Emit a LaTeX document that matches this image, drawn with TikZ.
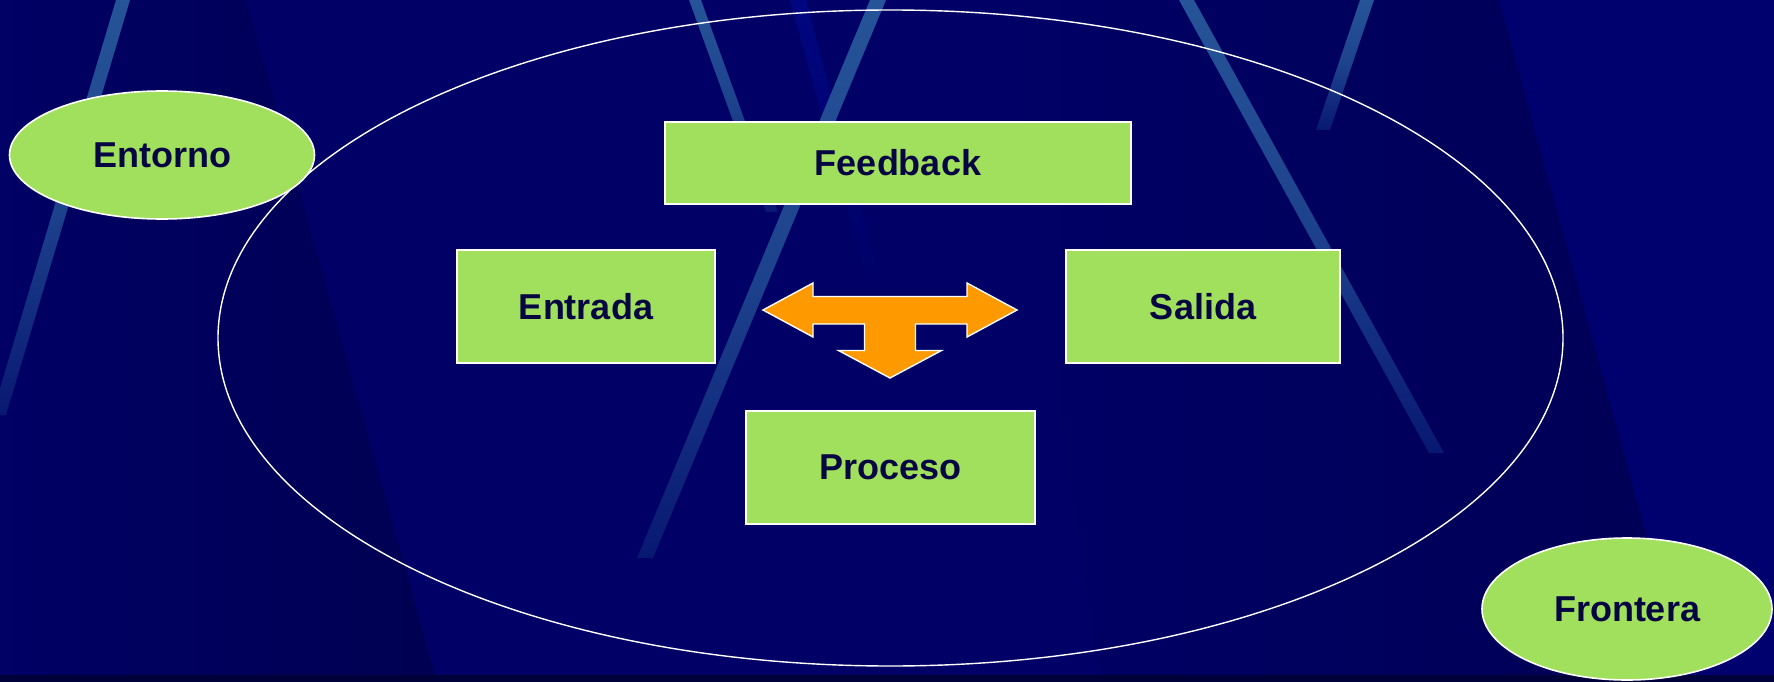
\documentclass[tikz,border=0pt]{standalone}
\usepackage{fontspec}
\setmainfont{Liberation Sans}
\usetikzlibrary{shapes.geometric}

\definecolor{bgmain}{RGB}{0,0,102}
\definecolor{bgdark}{RGB}{0,0,82}
\definecolor{bglight}{RGB}{0,0,110}
\definecolor{bgstrip}{RGB}{0,0,58}
\definecolor{streaktop}{RGB}{38,84,152}
\definecolor{streakbot}{RGB}{8,24,114}
\definecolor{faintstreak}{RGB}{0,6,128}
\definecolor{boxgreen}{RGB}{160,224,92}
\definecolor{inkblue}{RGB}{6,6,66}
\definecolor{arroworange}{RGB}{255,153,0}

\tikzset{
  lbl/.style={font=\fontsize{36}{40}\selectfont\bfseries, text=inkblue},
  greenbox/.style={lbl, rectangle, draw=white, line width=1.6pt, fill=boxgreen, inner sep=0pt},
  greenoval/.style={lbl, ellipse, draw=white, line width=1.6pt, fill=boxgreen, inner sep=0pt},
  systemoval/.style={ellipse, draw=white, line width=1.4pt, inner sep=0pt},
  streak/.style={top color=streaktop, bottom color=streakbot, middle color=streaktop!70!streakbot, draw=none},
}

\begin{document}
\begin{tikzpicture}[x=1pt, y=-1pt]
\useasboundingbox (0,0) rectangle (1774,682);

% slide background: navy field with soft wedges
\fill[bgmain] (0,0) rectangle (1774,682);
\shade[left color=bgmain!95!bgdark, right color=bgdark]
  (0,0) -- (246,0) -- (437,682) -- (0,682) -- cycle;
\shade[left color=bgmain, right color=bgdark!85!bgmain]
  (1000,0) -- (1499,0) -- (1687,682) -- (1100,682) -- cycle;
\fill[bglight] (1499,0) -- (1774,0) -- (1774,682) -- (1687,682) -- cycle;
\shade[top color=faintstreak, bottom color=bgmain, draw=none]
  (790,0) -- (806,0) -- (884,293) -- (870,293) -- cycle;

% light diagonal streaks
\shade[streak] (116,0) -- (130,0) -- (6,415) -- (-8,415) -- cycle;
\shade[streak] (689,0) -- (701,0) -- (778,212) -- (766,212) -- cycle;
\shade[streak] (870,0) -- (886,0) -- (653,558) -- (637,558) -- cycle;
\shade[streak] (1179,0) -- (1194,0) -- (1444,453) -- (1429,453) -- cycle;
\shade[streak] (1360,0) -- (1374,0) -- (1330,130) -- (1316,130) -- cycle;

% dark strip along the bottom edge
\fill[bgstrip] (0,675) rectangle (1774,682);

% system boundary
\node[systemoval, minimum width=1345pt, minimum height=656pt] (sistema) at (890.5,338) {};

% environment and frontier labels
\node[greenoval, minimum width=305pt, minimum height=128pt] (entorno) at (162,155) {Entorno};
\node[greenoval, minimum width=290pt, minimum height=142pt] (frontera) at (1627,609) {Frontera};

% system components
\node[greenbox, minimum width=466pt, minimum height=82pt] (feedback) at (898,163) {Feedback};
\node[greenbox, minimum width=258pt, minimum height=113pt] (entrada) at (586,306.5) {Entrada};
\node[greenbox, minimum width=274pt, minimum height=113pt] (salida) at (1203,306.5) {Salida};
\node[greenbox, minimum width=289pt, minimum height=113pt] (proceso) at (890.5,467.5) {Proceso};

% three-way block arrow between the components
\filldraw[fill=arroworange, draw=white, line width=1.4pt, line join=miter]
  (763,310) -- (813,283) -- (813,296.5) -- (967,296.5) -- (967,283)
  -- (1017,310) -- (967,337) -- (967,324) -- (915.5,324) -- (915.5,350.5)
  -- (941.5,350.5) -- (890,378) -- (838.5,350.5) -- (864.5,350.5)
  -- (864.5,324) -- (813,324) -- (813,337) -- cycle;
\end{tikzpicture}
\end{document}
